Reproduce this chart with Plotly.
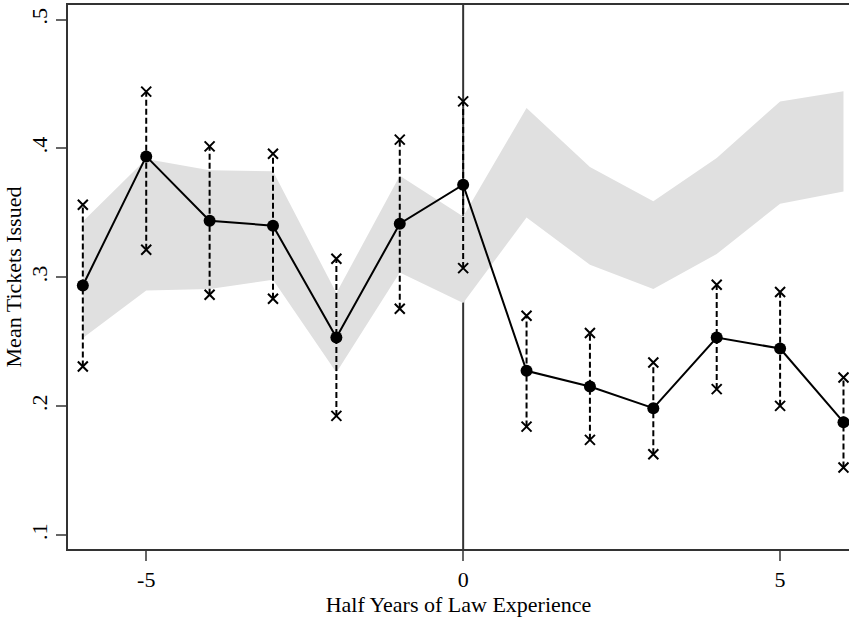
import plotly.graph_objects as go

# Data
half_years = [-6, -5, -4, -3, -2, -1, 0, 1, 2, 3, 4, 5, 6]
mean_tickets = [0.2936, 0.3938, 0.3439, 0.3400, 0.2532, 0.3416, 0.3718,
                0.2274, 0.2152, 0.1984, 0.2532, 0.2447, 0.1875]
ci_upper = [0.3563, 0.4441, 0.4016, 0.3959, 0.3144, 0.4068, 0.4365,
            0.2701, 0.2567, 0.2338, 0.2942, 0.2885, 0.2222]
ci_lower = [0.2307, 0.3214, 0.2864, 0.2833, 0.1924, 0.2755, 0.3071,
            0.1841, 0.1738, 0.1627, 0.2132, 0.2002, 0.1523]
band_upper = [0.3433, 0.3918, 0.3830, 0.3822, 0.2877, 0.3788, 0.3472,
              0.4314, 0.3856, 0.3589, 0.3926, 0.4365, 0.4443]
band_lower = [0.2528, 0.2897, 0.2908, 0.2981, 0.2261, 0.3037, 0.2800,
              0.3464, 0.3097, 0.2908, 0.3180, 0.3571, 0.3666]

x_tickvals = [-5, 0, 5]
x_ticktext = ["-5", "0", "5"]
y_tickvals = [0.1, 0.2, 0.3, 0.4, 0.5]
y_ticktext = [".1", ".2", ".3", ".4", ".5"]

FONT = "Liberation Serif"

fig = go.Figure()

# shaded band
fig.add_trace(go.Scatter(x=half_years, y=band_lower, mode="lines",
                         line=dict(width=0, color="rgba(0,0,0,0)"),
                         showlegend=False, hoverinfo="skip"))
fig.add_trace(go.Scatter(x=half_years, y=band_upper, mode="lines",
                         line=dict(width=0, color="rgba(0,0,0,0)"),
                         fill="tonexty", fillcolor="#e0e0e0",
                         showlegend=False, hoverinfo="skip"))

# dashed CI bars
ex, ey = [], []
for xv, lo, hi in zip(half_years, ci_lower, ci_upper):
    ex += [xv, xv, None]
    ey += [lo, hi, None]
fig.add_trace(go.Scatter(x=ex, y=ey, mode="lines",
                         line=dict(color="black", width=2, dash="6px,3px"),
                         showlegend=False, hoverinfo="skip"))
fig.add_trace(go.Scatter(x=half_years + half_years, y=ci_upper + ci_lower,
                         mode="markers",
                         marker=dict(symbol="x-thin", size=10,
                                     line=dict(color="black", width=2)),
                         showlegend=False, hoverinfo="skip"))

# mean line
fig.add_trace(go.Scatter(x=half_years, y=mean_tickets, mode="lines+markers",
                         line=dict(color="black", width=2),
                         marker=dict(symbol="circle", size=12, color="black"),
                         showlegend=False))

fig.add_shape(type="line", x0=0, x1=0, xref="x", y0=0, y1=1, yref="paper",
              line=dict(color="#333333", width=2), layer="below")

fig.update_layout(
    width=849, height=617,
    margin=dict(l=68, r=0, t=5, b=68),
    paper_bgcolor="white", plot_bgcolor="white",
    font=dict(family=FONT, size=22, color="black"),
    showlegend=False,
    xaxis=dict(range=[-6.234, 6.087], tickvals=x_tickvals, ticktext=x_ticktext,
               showgrid=False, zeroline=False, showline=True, mirror=True,
               linecolor="#333333", linewidth=2,
               ticks="outside", ticklen=10, tickwidth=2, tickcolor="#666666",
               tickfont=dict(family=FONT, size=22),
               title=dict(text="Half Years of Law Experience",
                          font=dict(family=FONT, size=22), standoff=0)),
    yaxis=dict(range=[0.0891, 0.5113], tickvals=y_tickvals, ticktext=y_ticktext,
               showgrid=False, zeroline=False, showline=True, mirror=False,
               linecolor="#333333", linewidth=2,
               ticks="outside", ticklen=10, tickwidth=2, tickcolor="#666666",
               tickangle=-90,
               tickfont=dict(family=FONT, size=22),
               title=dict(text="Mean Tickets Issued",
                          font=dict(family=FONT, size=22), standoff=0)),
)

fig.write_html("out.html", config={"displayModeBar": False},
               post_script="document.body.style.margin='0';document.body.style.overflow='hidden';")
